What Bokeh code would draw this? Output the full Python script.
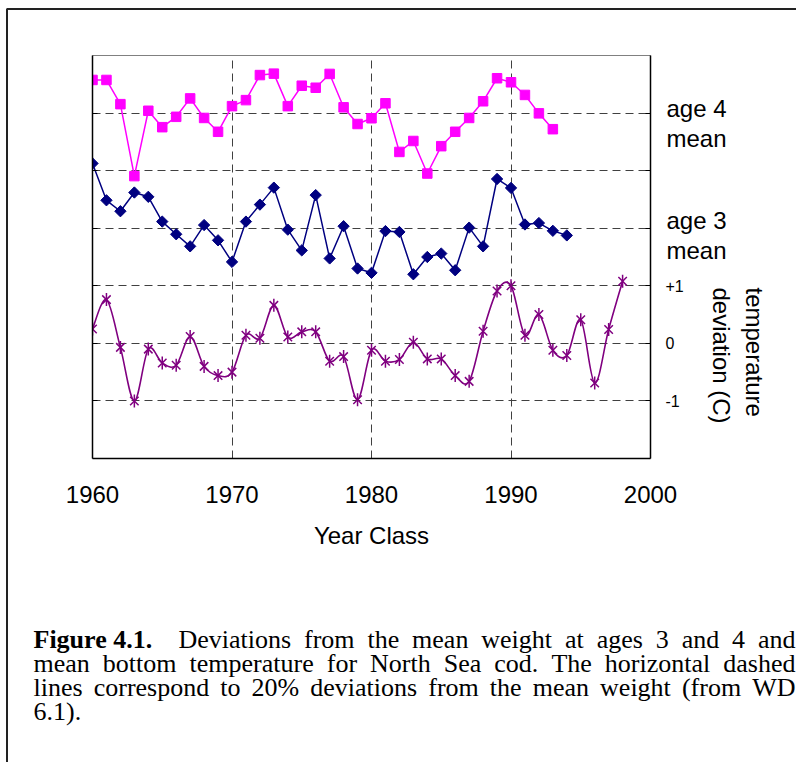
import numpy as np
from bokeh.plotting import figure
from bokeh.models import Range1d, LinearAxis, FixedTicker
from bokeh.core.properties import value
from bokeh.embed import file_html
from bokeh.resources import INLINE

# ---------------- data ----------------
years_age4 = list(range(1960, 1994))
age4_dev_pct = [11.5, 11.5, 3.1, -21.9, 0.8, -4.9, -1.3, 5.1, -1.7, -6.5,
                2.4, 4.5, 13.2, 13.7, 2.4, 9.5, 8.8, 13.6, 2.0, -3.8,
                -1.8, 3.4, -13.5, -9.7, -21.0, -11.5, -6.5, -1.7, 4.1, 12.1,
                10.7, 6.3, -0.1, -5.6]

years_age3 = list(range(1960, 1995))
age3_dev_pct = [22.5, 9.7, 5.9, 12.4, 10.9, 2.3, -2.1, -6.3, 1.1, -4.2,
                -11.7, 2.3, 8.2, 14.1, -0.5, -7.7, 11.5, -10.5, 0.7, -14.0,
                -15.5, -1.0, -1.3, -16.0, -10.0, -8.8, -14.6, 0.2, -6.3, 17.1,
                14.0, 1.3, 1.8, -0.9, -2.5]

years_temp = list(range(1960, 1999))
temp_dev = [0.25, 0.76, -0.07, -1.00, -0.10, -0.34, -0.38, 0.12, -0.40, -0.56,
            -0.50, 0.14, 0.09, 0.66, 0.11, 0.20, 0.20, -0.31, -0.23, -0.98,
            -0.12, -0.31, -0.28, 0.02, -0.27, -0.27, -0.56, -0.66, 0.21, 0.91,
            1.00, 0.14, 0.50, -0.12, -0.21, 0.41, -0.69, 0.24, 1.08]

x_ticks = [1960, 1970, 1980, 1990, 2000]
temp_tick_labels = {1: "-1", 2: "0", 3: "+1"}

caption_lines = [
    [("Figure 4.1.", True), ("Deviations", False), ("from", False), ("the", False),
     ("mean", False), ("weight", False), ("at", False), ("ages", False), ("3", False),
     ("and", False), ("4", False), ("and", False)],
    [(w, False) for w in "mean bottom temperature for North Sea cod. The horizontal dashed".split()],
    [(w, False) for w in "lines correspond to 20% deviations from the mean weight (from WD".split()],
    [("6.1).", False)],
]

# band layout: each band is centred on a dashed line, one grid step = 20 % or 1 degC
AGE4_BASE, AGE3_BASE, TEMP_BASE = 6, 4, 2
PCT_PER_STEP = 20.0

y4 = [AGE4_BASE + v / PCT_PER_STEP for v in age4_dev_pct]
y3 = [AGE3_BASE + v / PCT_PER_STEP for v in age3_dev_pct]
yt = [TEMP_BASE + v for v in temp_dev]

SANS = "Liberation Sans"
SERIF = "Liberation Serif"
W, H = 796, 762

p = figure(width=W, height=H, x_range=Range1d(1960, 2000), y_range=Range1d(0, 7),
           output_backend="svg", toolbar_location=None,
           min_border_left=92, min_border_right=W - 650, min_border_top=55,
           min_border_bottom=H - 458)
p.background_fill_color = "white"
p.border_fill_color = "white"
p.outline_line_color = "#808080"
p.outline_line_width = 1

# grids
p.xgrid.ticker = FixedTicker(ticks=[1970, 1980, 1990])
p.ygrid.ticker = FixedTicker(ticks=[1, 2, 3, 4, 5, 6, 7])
for g in (p.xgrid[0], p.ygrid[0]):
    g.grid_line_color = "#404040"
    g.grid_line_dash = "8 5"
    g.grid_line_width = 1

# bottom axis
xa = p.xaxis[0]
xa.ticker = FixedTicker(ticks=x_ticks)
xa.major_tick_in = 0
xa.major_tick_out = 0
xa.minor_tick_line_color = None
xa.axis_line_color = "black"
xa.axis_line_width = 1.5
xa.major_label_text_font = SANS
xa.major_label_text_font_size = "24px"
xa.major_label_text_color = "black"
xa.major_label_standoff = 27
xa.axis_label = "Year Class"
xa.axis_label_text_font = SANS
xa.axis_label_text_font_size = "24px"
xa.axis_label_text_font_style = "normal"
xa.axis_label_text_color = "black"
xa.axis_label_standoff = 16

# left axis (no labels)
ya = p.yaxis[0]
ya.ticker = FixedTicker(ticks=[1, 2, 3, 4, 5, 6])
ya.major_tick_in = 5
ya.major_tick_out = 0
ya.minor_tick_line_color = None
ya.axis_line_color = "black"
ya.axis_line_width = 1.5
ya.major_label_overrides = {t: "" for t in range(1, 7)}
ya.major_label_text_font_size = "1px"

# right axis (temperature labels)
ra = LinearAxis(ticker=FixedTicker(ticks=[1, 2, 3, 4, 5, 6]),
                major_label_overrides={t: temp_tick_labels.get(t, "") for t in range(1, 7)})
ra.major_tick_in = 5
ra.major_tick_out = 0
ra.minor_tick_line_color = None
ra.axis_line_color = "black"
ra.axis_line_width = 1.5
ra.major_label_text_font = SANS
ra.major_label_text_font_size = "16px"
ra.major_label_text_color = "black"
ra.major_label_standoff = 15
p.add_layout(ra, "right")

# temperature: smoothed line through the points (Catmull-Rom bezier)
xs = np.array(years_temp, dtype=float)
ys = np.array(yt, dtype=float)
xp = np.concatenate([[xs[0]], xs, [xs[-1]]])
yp = np.concatenate([[ys[0]], ys, [ys[-1]]])
n = len(xs)
x0, y0 = xs[:-1], ys[:-1]
x1, y1 = xs[1:], ys[1:]
cx0 = x0 + (xp[2:n + 1] - xp[0:n - 1]) / 6.0
cy0 = y0 + (yp[2:n + 1] - yp[0:n - 1]) / 6.0
cx1 = x1 - (xp[3:n + 2] - xp[1:n]) / 6.0
cy1 = y1 - (yp[3:n + 2] - yp[1:n]) / 6.0
p.bezier(x0=x0, y0=y0, x1=x1, y1=y1, cx0=cx0, cy0=cy0, cx1=cx1, cy1=cy1,
         line_color="#800080", line_width=1.6)
p.scatter(years_temp, yt, marker="x", size=12, line_color="#800080", line_width=1.5)
p.scatter(years_temp, yt, marker="dash", angle=np.pi / 2, size=13,
          line_color="#800080", line_width=1.5)

# age 3
p.line(years_age3, y3, line_color="#000080", line_width=1.5)
p.scatter(years_age3, y3, marker="square", angle=np.pi / 4, size=8,
          fill_color="#000080", line_color="#000080")

# age 4
p.line(years_age4, y4, line_color="#FF00FF", line_width=1.5)
p.scatter(years_age4, y4, marker="square", size=9.5,
          fill_color="#FF00FF", line_color="#FF00FF")

# ---------------- transparent text overlay (pixel coordinates, y down) ----------------
ov = figure(width=W, height=H, x_range=Range1d(0, W), y_range=Range1d(H, 0),
            output_backend="svg", toolbar_location=None,
            x_axis_location=None, y_axis_location=None,
            min_border=0, min_border_left=0, min_border_right=0,
            min_border_top=0, min_border_bottom=0)
ov.background_fill_alpha = 0
ov.border_fill_alpha = 0
ov.outline_line_color = None
ov.grid.visible = False
ov.margin = (-H, 0, 0, 0)

# outer frame of the figure box
ov.line(x=[6.5, 6.5, W], y=[H, 8.5, 8.5], line_color="#222222", line_width=2)


def put(texts, xs_, ys_, size="24px", font=SANS, angle=0.0, bold=False,
        align="left", baseline="middle"):
    ov.text(x=xs_, y=ys_, text=texts, angle=angle,
            text_font=value(font), text_font_size=value(size),
            text_font_style="bold" if bold else "normal",
            text_color="black", text_align=align, text_baseline=baseline)


put(["age 4", "mean", "age 3", "mean"], [666, 666, 666, 666], [108, 138, 220, 250])
put(["temperature", "deviation (C)"], [754, 721], [287, 287], angle=-np.pi / 2)

# caption (justified, Times metrics)
REG = {" ": 250, "(": 333, ")": 333, "%": 833, ".": 250, ",": 250,
       "a": 444, "b": 500, "c": 444, "d": 500, "e": 444, "f": 333, "g": 500, "h": 500,
       "i": 278, "l": 278, "m": 778, "n": 500, "o": 500, "p": 500, "r": 333, "s": 389,
       "t": 278, "u": 500, "v": 500, "w": 722, "z": 444,
       "D": 722, "N": 722, "S": 556, "T": 611, "W": 944}
BOLD = {" ": 250, ".": 250, "F": 611, "i": 278, "g": 500, "u": 556, "r": 444, "e": 444}

CAP_SIZE = 26
CAP_LEFT, CAP_RIGHT = 33, 795
CAP_MID0, CAP_STEP = 639, 24


def width(word, bold):
    tab = BOLD if bold else REG
    return sum(tab.get(ch, 500) for ch in word) / 1000.0 * CAP_SIZE


for li, line in enumerate(caption_lines):
    widths = [width(w, b) for w, b in line]
    gaps = [2 if (i == 0 and line[0][1]) else 1 for i in range(len(line) - 1)]
    justify = li < len(caption_lines) - 1
    if justify and gaps:
        unit = ((CAP_RIGHT - CAP_LEFT) - sum(widths)) / sum(gaps)
    else:
        unit = REG[" "] / 1000.0 * CAP_SIZE
    xpos = CAP_LEFT
    reg_t, reg_x, bold_t, bold_x = [], [], [], []
    for i, (w, b) in enumerate(line):
        (bold_t if b else reg_t).append(w)
        (bold_x if b else reg_x).append(xpos)
        xpos += widths[i] + (unit * gaps[i] if i < len(gaps) else 0)
    ym = CAP_MID0 + li * CAP_STEP
    if reg_t:
        put(reg_t, reg_x, [ym] * len(reg_t), size=f"{CAP_SIZE}px", font=SERIF)
    if bold_t:
        put(bold_t, bold_x, [ym] * len(bold_t), size=f"{CAP_SIZE}px", font=SERIF, bold=True)

# two separate roots (no frame alignment between them); the overlay is pulled up over the plot
open("out.html", "w").write(file_html([p, ov], INLINE))
